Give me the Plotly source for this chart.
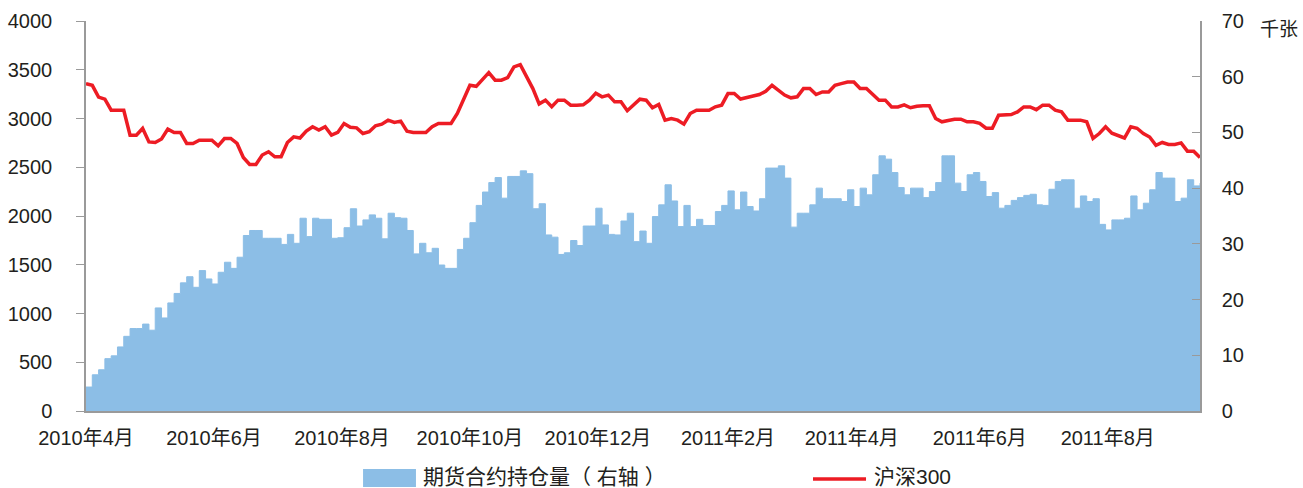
import pandas as pd
import plotly.graph_objects as go

# x categories: sampling dates (every 3 calendar days)
dates = pd.date_range("2010-04-16", "2011-09-30", freq="3D")

# 沪深300 index (left axis)
hs300 = [
    3358, 3340, 3220, 3198, 3085, 3085, 3085, 2829, 2829, 2898,
    2760, 2754, 2790, 2891, 2857, 2857, 2744, 2744, 2778, 2778,
    2778, 2720, 2795, 2795, 2744, 2600, 2529, 2529, 2625,
    2659, 2607, 2607, 2754, 2812, 2800, 2870, 2915, 2881, 2915,
    2830, 2857, 2949, 2910, 2904, 2846, 2864, 2925, 2942, 2983,
    2960, 2973, 2870, 2857, 2857, 2857, 2915, 2949, 2949, 2949,
    3051, 3205, 3341, 3330, 3403, 3470, 3393, 3393, 3420, 3529,
    3553, 3420, 3307, 3150, 3188, 3120, 3188, 3188, 3137, 3137,
    3140, 3188, 3260, 3222, 3240, 3171, 3171, 3080, 3137, 3198,
    3188, 3109, 3143, 2983, 3000, 2983, 2942, 3051, 3085, 3085,
    3085, 3120, 3137, 3256, 3256, 3200, 3212, 3230, 3246, 3280,
    3341, 3290, 3240, 3212, 3222, 3307, 3307, 3246, 3273,
    3273, 3341, 3358, 3375, 3375, 3307, 3307, 3250, 3188, 3188,
    3119, 3119, 3140, 3110, 3126, 3130, 3130, 3000, 2966, 2980,
    2993, 2993, 2966, 2966, 2950, 2900, 2900, 3034, 3034, 3041,
    3068, 3119, 3119, 3090, 3137, 3137, 3085, 3068, 2983, 2983,
    2983, 2966, 2795, 2846, 2915, 2850, 2823, 2800, 2915, 2900,
    2846, 2810, 2725, 2754, 2734, 2734, 2750, 2665, 2665, 2600,
]

# 期货合约持仓量 (thousand contracts, right axis)
open_interest = [
    4.3, 6.5, 7.4, 9.4, 9.9, 11.5, 13.4, 14.8, 14.8, 15.6,
    14.5, 18.5, 16.7, 19.4, 21.1, 23.0, 24.1, 22.2, 25.2, 23.7,
    22.8, 24.9, 26.7, 25.6, 27.6, 31.5, 32.4, 32.4, 31.0,
    31.0, 31.0, 29.9, 31.7, 30.1, 34.6, 31.3, 34.6, 34.4, 34.4,
    31.0, 31.1, 32.9, 36.3, 33.2, 34.3, 35.2, 34.6, 30.9, 35.5,
    34.7, 34.6, 32.4, 28.2, 30.1, 28.4, 29.2, 26.2, 25.6, 25.6,
    29.0, 31.0, 33.8, 36.9, 39.3, 41.0, 41.9, 38.2, 42.1, 42.1,
    43.1, 42.6, 36.3, 37.2, 31.6, 31.2, 28.1, 28.4, 30.6, 29.7,
    33.2, 33.2, 36.4, 33.4, 31.7, 31.6, 34.1, 35.5, 30.4, 32.3,
    30.1, 34.9, 37.0, 40.6, 37.7, 33.1, 36.9, 33.1, 34.4, 33.3,
    33.3, 35.8, 36.9, 39.5, 36.1, 39.3, 36.7, 35.9, 38.1, 43.6,
    43.6, 44.0, 41.8, 33.0, 35.5, 35.5, 37.0, 40.0, 38.1,
    38.1, 38.1, 37.6, 39.7, 36.7, 40.0, 38.8, 42.4, 45.8, 45.2,
    42.8, 40.1, 38.8, 40.0, 40.0, 38.3, 39.4, 41.0, 45.8, 45.8,
    40.9, 39.4, 42.4, 42.8, 41.2, 38.5, 39.2, 36.4, 36.9, 37.8,
    38.3, 38.7, 38.9, 37.0, 36.9, 39.8, 41.2, 41.5, 41.5, 36.4,
    38.6, 37.6, 38.1, 33.5, 32.5, 34.3, 34.3, 34.6, 38.6, 36.1,
    37.3, 39.7, 42.8, 41.8, 41.8, 37.6, 38.2, 41.5, 40.4, 40.9,
]

tick_dates = ["2010-04-16", "2010-06-16", "2010-08-16", "2010-10-16", "2010-12-16",
              "2011-02-16", "2011-04-16", "2011-06-16", "2011-08-16"]
tick_text = ["2010年4月", "2010年6月", "2010年8月", "2010年10月", "2010年12月",
             "2011年2月", "2011年4月", "2011年6月", "2011年8月"]

left_ticks = [0, 500, 1000, 1500, 2000, 2500, 3000, 3500, 4000]
right_ticks = [0, 10, 20, 30, 40, 50, 60, 70]

BLUE = "#8CBEE6"
RED = "#ED1C24"
AXIS = "#9A9A9A"
TXT = "#231F20"
FONT = "Liberation Sans, Arial, Noto Sans CJK SC, sans-serif"

fig = go.Figure()
fig.add_trace(go.Scatter(
    x=dates, y=open_interest, mode="lines", line=dict(shape="hv", color=BLUE, width=1),
    fill="tozeroy", fillcolor=BLUE, name="期货合约持仓量（右轴）", yaxis="y", showlegend=False,
))
fig.add_trace(go.Scatter(
    x=dates, y=hs300, mode="lines", line=dict(color=RED, width=3.5),
    name="沪深300", yaxis="y2", showlegend=False,
))

fig.update_layout(
    width=1303, height=488,
    margin=dict(l=86, r=103, t=21, b=77),
    paper_bgcolor="white", plot_bgcolor="white",
    font=dict(family=FONT, size=20, color=TXT),
    xaxis=dict(
        range=["2010-04-16", "2011-09-29"], tickvals=tick_dates, ticktext=tick_text,
        showgrid=False, zeroline=False, showline=True, linecolor=AXIS, linewidth=1.5,
        ticks="", ticklabelstandoff=8, tickfont=dict(size=20, color=TXT), automargin=False,
    ),
    yaxis=dict(
        side="right", range=[0, 70], tickvals=right_ticks,
        showgrid=False, zeroline=False, showline=True, linecolor=AXIS, linewidth=1.5,
        ticks="inside", ticklen=8, tickcolor=AXIS, ticklabelstandoff=16,
        tickfont=dict(size=20, color=TXT), automargin=False,
    ),
    yaxis2=dict(
        side="left", overlaying="y", range=[0, 4000], tickvals=left_ticks,
        showgrid=False, zeroline=False, showline=True, linecolor=AXIS, linewidth=1.5,
        ticks="outside", ticklen=8, tickcolor=AXIS, ticklabelstandoff=20,
        tickfont=dict(size=20, color=TXT), automargin=False,
    ),
    shapes=[
        dict(type="rect", xref="paper", yref="paper", x0=0.2487, x1=0.2962,
             y0=-0.1949, y1=-0.1487, fillcolor=BLUE, line=dict(width=0)),
        dict(type="line", xref="paper", yref="paper", x0=0.6526, x1=0.7002,
             y0=-0.1744, y1=-0.1744, line=dict(color=RED, width=3.5)),
    ],
    annotations=[
        dict(text="期货合约持仓量（ 右轴 ）", xref="paper", yref="paper", x=0.3007, y=-0.1667,
             xanchor="left", yanchor="middle", showarrow=False, font=dict(size=21, color=TXT)),
        dict(text="沪深300", xref="paper", yref="paper", x=0.7056, y=-0.1667,
             xanchor="left", yanchor="middle", showarrow=False, font=dict(size=21, color=TXT)),
        dict(text="千张", xref="paper", yref="paper", x=1.071, y=0.978,
             xanchor="center", yanchor="middle", showarrow=False, font=dict(size=19, color=TXT)),
    ],
)

fig.write_html(
    "out.html",
    config={"displayModeBar": False},
    post_script="document.body.style.margin='0';document.body.style.overflow='hidden';",
)
